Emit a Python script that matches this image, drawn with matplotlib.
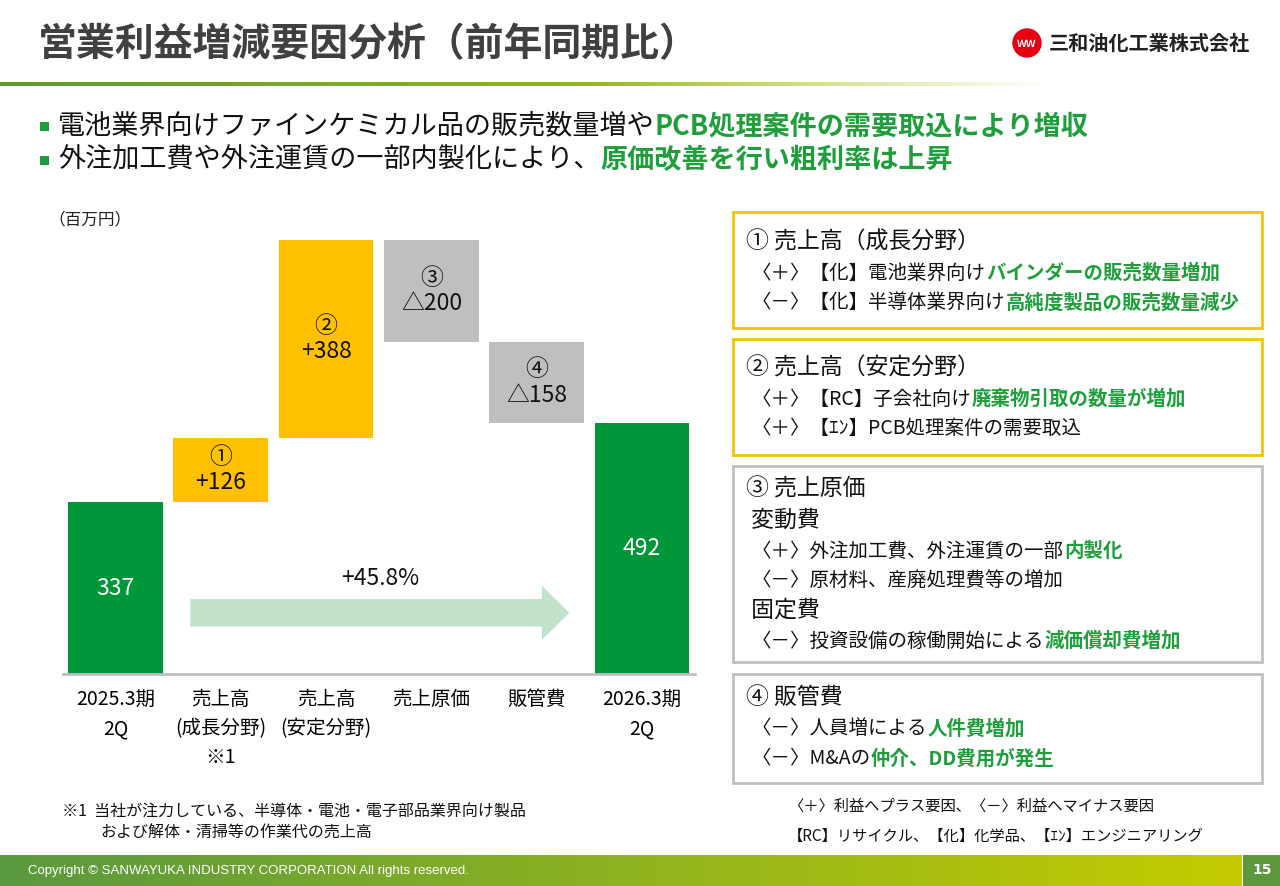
import matplotlib
matplotlib.use("Agg")
import matplotlib.pyplot as plt
import matplotlib.patches as patches
import numpy as np

plt.rcParams['font.family'] = ['Noto Sans CJK JP', 'DejaVu Sans']

W, H = 1280, 886

# ---- data ----
categories = ["2025.3期\n2Q", "売上高\n(成長分野)\n※1", "売上高\n(安定分野)", "売上原価", "販管費", "2026.3期\n2Q"]
start_value = 337
end_value = 492
changes = [126, 388, -200, -158]
change_marks = ["①", "②", "③", "④"]
growth_label = "+45.8%"
unit_label = "（百万円）"

title = "営業利益増減要因分析（前年同期比）"
company = "三和油化工業株式会社"
bullets = [
    [("電池業界向けファインケミカル品の販売数量増や", False), ("PCB処理案件の需要取込により増収", True)],
    [("外注加工費や外注運賃の一部内製化により、", False), ("原価改善を行い粗利率は上昇", True)],
]
boxes = [
    ("#f5c300", [
        [("① 売上高（成長分野）", False)],
        [("〈＋〉【化】電池業界向け", False), ("バインダーの販売数量増加", True)],
        [("〈－〉【化】半導体業界向け", False), ("高純度製品の販売数量減少", True)],
    ]),
    ("#f5c300", [
        [("② 売上高（安定分野）", False)],
        [("〈＋〉【RC】子会社向け", False), ("廃棄物引取の数量が増加", True)],
        [("〈＋〉【ｴﾝ】PCB処理案件の需要取込", False)],
    ]),
    ("#c0c0c0", [
        [("③ 売上原価", False)],
        [(" 変動費", False)],
        [("〈＋〉外注加工費、外注運賃の一部", False), ("内製化", True)],
        [("〈－〉原材料、産廃処理費等の増加", False)],
        [(" 固定費", False)],
        [("〈－〉投資設備の稼働開始による", False), ("減価償却費増加", True)],
    ]),
    ("#c0c0c0", [
        [("④ 販管費", False)],
        [("〈－〉人員増による", False), ("人件費増加", True)],
        [("〈－〉M&Aの", False), ("仲介、DD費用が発生", True)],
    ]),
]
notes = ["〈＋〉利益へプラス要因、〈－〉利益へマイナス要因",
         "【RC】リサイクル、【化】化学品、【ｴﾝ】エンジニアリング"]
footnote = ["※1  当社が注力している、半導体・電池・電子部品業界向け製品",
            "および解体・清掃等の作業代の売上高"]
copyright_text = "Copyright © SANWAYUKA INDUSTRY CORPORATION All rights reserved."
page_no = "15"

GREEN = "#00963a"
TEXT_GREEN = "#1e9f3c"
YELLOW = "#ffc000"
GRAY = "#bfbfbf"

fig = plt.figure(figsize=(W / 100, H / 100), dpi=100)
renderer = fig.canvas.get_renderer()

# background axes in pixel coordinates
bg = fig.add_axes([0, 0, 1, 1], zorder=-1)
bg.set_xlim(0, W)
bg.set_ylim(H, 0)
bg.axis("off")

# header gradient line
n = 512
t = np.linspace(0, 1, n)
c0 = np.array([0.37, 0.60, 0.20])
c1 = np.array([0.72, 0.80, 0.05])
rgba = np.zeros((1, n, 4))
rgba[0, :, :3] = c0 + (c1 - c0) * t[:, None]
rgba[0, :, 3] = np.clip((1 - t) / 0.45, 0, 1)
bg.imshow(rgba, extent=(0, 1050, 86, 82), aspect="auto", interpolation="bilinear")

# footer gradient
f0 = np.array([0.35, 0.60, 0.25])
f1 = np.array([0.77, 0.80, 0.0])
foot = np.zeros((1, n, 3))
foot[0] = f0 + (f1 - f0) * t[:, None]
bg.imshow(foot, extent=(0, 1242, H, 855), aspect="auto", interpolation="bilinear")
bg.add_patch(patches.Rectangle((1243, 855), 37, 31, color="#5d993c", lw=0))
bg.text(28, 871, copyright_text, fontsize=9.5, color="white", family="Liberation Sans", va="center")
bg.text(1262, 870, page_no, fontsize=10, color="white", fontweight="bold", ha="center", va="center",
        family="DejaVu Sans")

# title and logo
bg.text(38, 45, title, fontsize=28, fontweight="bold", color="#404040", va="center")
bg.add_patch(patches.Circle((1027, 43), 14, color="#e60012"))
bg.text(1027, 44, "ＷＷ", fontsize=7, fontweight="bold", color="white", ha="center", va="center")
bg.text(1049, 43, company, fontsize=14.5, fontweight="bold", color="#222222", va="center")


def rich(x, y, parts, size, bold_color=TEXT_GREEN, color="#111111"):
    for text, strong in parts:
        tx = bg.text(x, y, text, fontsize=size, va="center", ha="left",
                     color=bold_color if strong else color,
                     fontweight="bold" if strong else "normal")
        x += tx.get_window_extent(renderer).width


# bullets
for i, parts in enumerate(bullets):
    y = 126 + i * 34
    bg.add_patch(patches.Rectangle((40, y - 4), 9, 9, color=TEXT_GREEN, lw=0))
    rich(58, y, parts, 19.5)

# right boxes
box_tops = [212, 339, 466, 674]
box_heights = [116, 116, 196, 109]
first_offsets = [30, 29, 23, 24]
for (edge, lines), top, hgt, off in zip(boxes, box_tops, box_heights, first_offsets):
    bg.add_patch(patches.Rectangle((733, top), 529, hgt, fill=False, edgecolor=edge, lw=2))
    y = top + off
    for j, parts in enumerate(lines):
        first = parts[0][0]
        heading = first[0] in "①②③④" or first.startswith(" ")
        size = 16.5 if heading else 14
        rich(746 if heading else 752, y, parts, size)
        y += 31 if heading else 29.5

for k, line in enumerate(notes):
    bg.text(788, 806 + k * 30, line, fontsize=11, color="#111111", va="center")

bg.text(62, 812, footnote[0], fontsize=11.5, color="#111111", va="center")
bg.text(100, 833, footnote[1], fontsize=11.5, color="#111111", va="center")

bg.text(48, 220, unit_label, fontsize=12, color="#222222", va="center")

# ---- waterfall chart ----
ax = fig.add_axes([62.85 / W, (H - 674) / H, (694.65 - 62.85) / W, (674 - 215) / H])
x = np.arange(len(categories))
bottoms = [0]
heights = [start_value]
labels = [str(start_value)]
cum = start_value
for d in changes:
    if d >= 0:
        bottoms.append(cum)
        heights.append(d)
        labels.append("+%d" % d)
    else:
        bottoms.append(cum + d)
        heights.append(-d)
        labels.append("△%d" % -d)
    cum += d
bottoms.append(0)
heights.append(end_value)
labels.append(str(end_value))
colors = [GREEN] + [YELLOW if d >= 0 else GRAY for d in changes] + [GREEN]

ax.bar(x, heights, bottom=bottoms, width=0.9, color=colors, zorder=2)
for i in range(len(x)):
    cy = bottoms[i] + heights[i] / 2
    if 0 < i < len(x) - 1:
        ax.text(x[i], cy, change_marks[i - 1] + "\n" + labels[i], ha="center", va="center",
                fontsize=16.5, color="#111111", linespacing=1.15, zorder=3)
    else:
        ax.text(x[i], cy, labels[i], ha="center", va="center", fontsize=16.5, color="white", zorder=3)

ax.add_patch(patches.FancyArrow(0.71, 120, 3.6, 0, width=54, head_width=106, head_length=0.26,
                                length_includes_head=True, color="#c3e2cb", lw=0, zorder=1))
ax.text(2.51, 188, growth_label, ha="center", va="center", fontsize=16.5, color="#111111")

ax.set_xlim(-0.5, len(x) - 0.5)
ax.set_ylim(0, 900)
ax.set_xticks(x)
ax.set_xticklabels(categories, fontsize=14, linespacing=1.5, va="top")
ax.tick_params(axis="x", length=0, pad=11)
ax.set_yticks([])
for s in ["top", "right", "left"]:
    ax.spines[s].set_visible(False)
ax.spines["bottom"].set_color(GRAY)
ax.spines["bottom"].set_linewidth(2)
ax.patch.set_alpha(0)

fig.savefig("out.png", dpi=100)
